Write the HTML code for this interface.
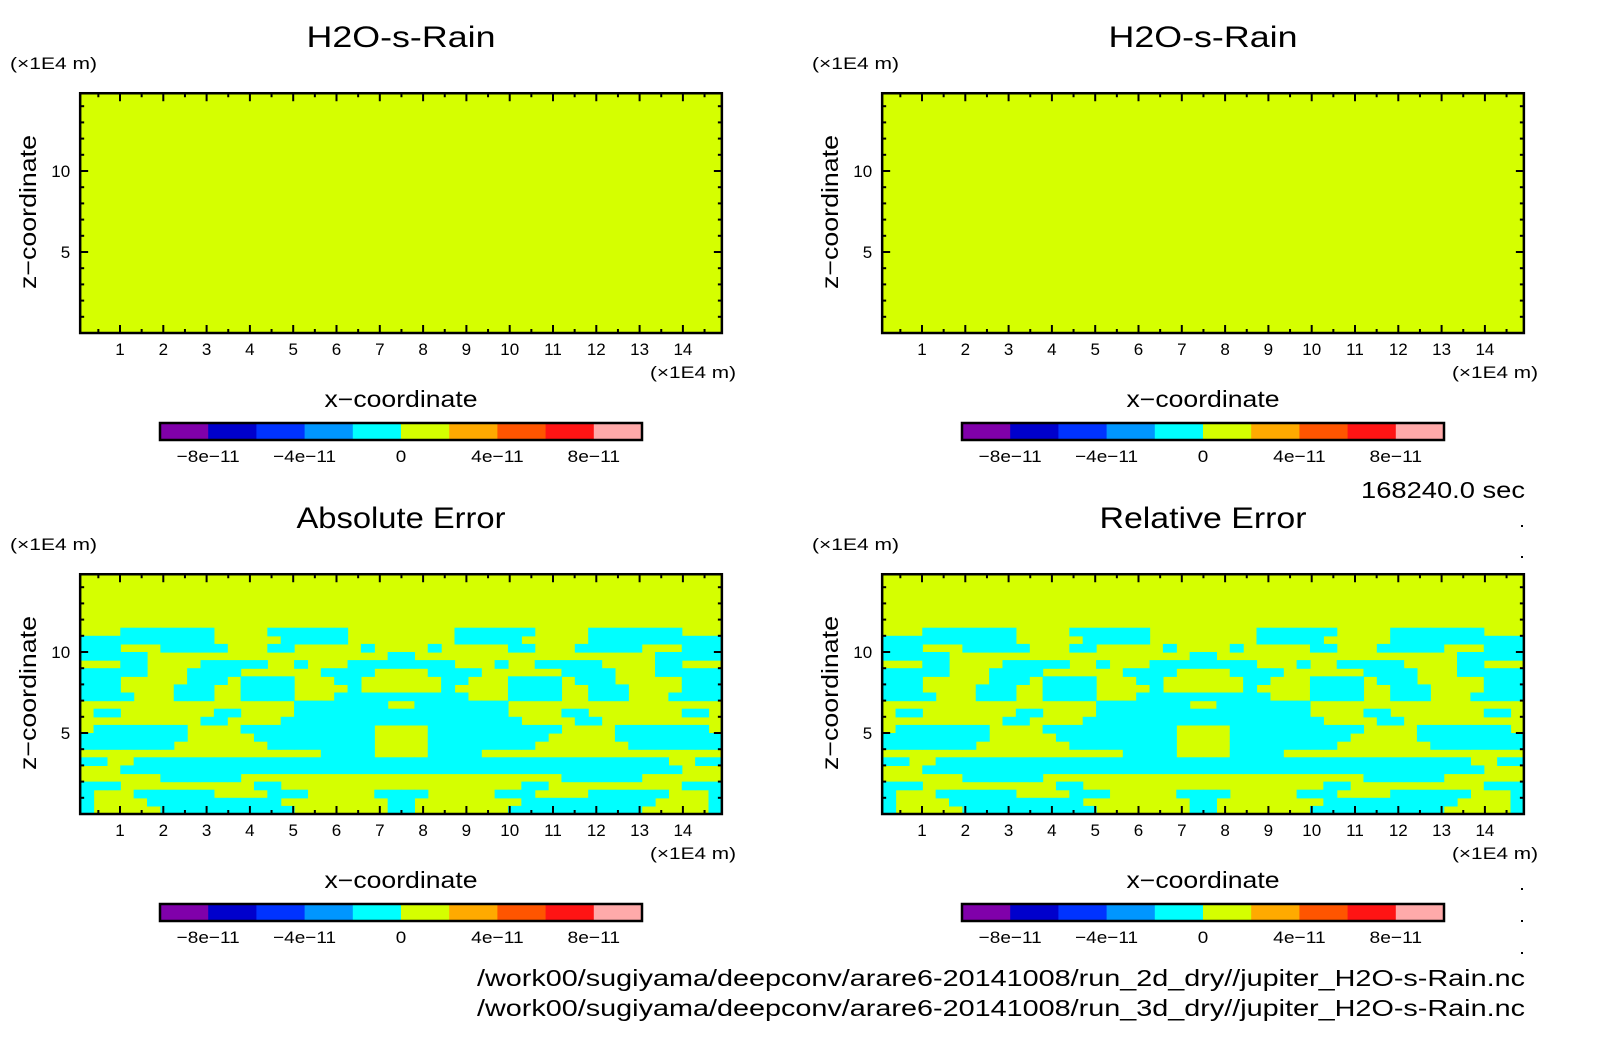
<!DOCTYPE html>
<html><head><meta charset="utf-8"><title>H2O-s-Rain</title>
<style>body{margin:0;background:#fff}svg{display:block;font-family:"Liberation Sans",sans-serif}</style>
</head><body>
<svg id="fig" width="1604" height="1054" viewBox="0 0 1604 1054" xmlns="http://www.w3.org/2000/svg">
<rect width="1604" height="1054" fill="#fff"/>
</svg>
<script>
// ---- data ----
const xTicks = [1,2,3,4,5,6,7,8,9,10,11,12,13,14];
const yTicks = [5,10];
const cbarColors = ["#8000aa","#0000cc","#0033ff","#0096ff","#00ffff","#d5ff00","#ffaa00","#ff5500","#ff1414","#ffaaaa"];
const cbarLabels = ["-8e-11","-4e-11","0","4e-11","8e-11"];
const cbarLabelIdx = [1,3,5,7,9];
const panelTitles = ["H2O-s-Rain","H2O-s-Rain","Absolute Error","Relative Error"];
// error field: rows from top (z=12) to bottom (z=0), left half of 48 columns (mirrored). C=cyan (<0), Y=yellow (>0)
const errRows = [
"YYYYYYYYYYYYYYYYYYYYYYYY",
"YYYCCCCCCCYYYYCCCCCCYYYY",
"CCCCCCCCCCYYYYYCCCCCYYYY",
"CCCYYYCCCCCYYYCCYYYYYCYY",
"CCCCCYYYYYYYYYYYYYYYYYYC",
"YYYCCYYYYCCCCCYYCYYYCCCC",
"CCCCCYYYCCCCYYYYYYCCCCYY",
"CCCYYYYYCCCYCCCCYYYCCYYY",
"CCCYYYYCCCYYCCCCYYYYCYYY",
"CCCCYYYCCCYYCCCCYYYCCCCC",
"YYYYYYYYYYYYYYYYCCCCCCCY",
"YCCYYYYYYYCCYYYYCCCCCCCC",
"YYYYYYYYYCCYYYYCCCCCCCCC",
"YCCCCCCCYYYYCCCCCCCCCCYY",
"CCCCCCCCYYYYYCCCCCCCCCYY",
"CCCCCCCYYYYYYYCCCCCCCCYY",
"YYYYYYYYYYYYYYYYYYCCCCYY",
"CCYYCCCCCCCCCCCCCCCCCCCC",
"YYYCCCCCCCCCCCCCCCCCCCCC",
"YYYYYYCCCCCCYYYYYYYYYYYY",
"CCCYYYYYYYYYYCCYYYYYYYYY",
"CYYYCCCCCCYYYYCCCYYYYYCC",
"CYYYYCCCCCCCCCCYYYYYYYYC",
"CYYYYYCCCCCCCCCCYYYYYYYC"
];
const fieldCellValue = {C:-1e-11, Y:1e-11};
const zTop = 12, zStep = 0.5, xMin = 0.08, xMax = 14.9, zMax = 14.8;
const cbarMin = -1e-10, cbarStep = 2e-11;
const titleWidths = [189, 189, 209, 207];

// ---- drawing ----
const NS = "http://www.w3.org/2000/svg";
const svg = document.getElementById("fig");
function mk(tag, attrs, parent){
  const e = document.createElementNS(NS, tag);
  for (const k in attrs) e.setAttribute(k, attrs[k]);
  (parent||svg).appendChild(e); return e;
}
function txt(s, x, y, size, anchor, parent, len){
  const t = mk("text", {x:x, y:y, "font-size":size, "text-anchor":anchor||"middle", fill:"#000"}, parent);
  if (len) { t.setAttribute("textLength", len); t.setAttribute("lengthAdjust", "spacingAndGlyphs"); }
  t.textContent = s; return t;
}
function colorFor(v){
  let i = Math.floor((v - cbarMin)/cbarStep);
  i = Math.max(0, Math.min(cbarColors.length-1, i));
  return cbarColors[i];
}

const panels = [
  {dx:0, dy:0, err:false},
  {dx:802, dy:0, err:false},
  {dx:0, dy:481, err:true},
  {dx:802, dy:481, err:true}
];

panels.forEach((p, pi) => {
  const g = mk("g", {});
  
  
  const xs = v => p.dx + 76.7 + 43.3*v;
  const ys = v => p.dy + 333 - 16.2*v;
  const L = xs(xMin), R = xs(xMax), T = ys(zMax), B = ys(0);

  const bg = mk("rect", {x:L, y:T, width:R-L, height:B-T, fill:colorFor(1e-11)}, g);
  
  

  if (p.err) {
    const ncol = errRows[0].length*2;
    const cw = (xMax - xMin)/ncol;
    errRows.forEach((row, r) => {
      const zHi = zTop - r*zStep, zLo = zHi - zStep;
      for (let c = 0; c < ncol; c++) {
        const ch = c < row.length ? row[c] : row[ncol-1-c];
        const v = fieldCellValue[ch];
        if (v >= 0) continue;
        const x0 = xs(xMin + c*cw), x1 = xs(xMin + (c+1)*cw);
        const cell = mk("rect", {x:x0, y:ys(zHi), width:x1-x0+0.6, height:ys(zLo)-ys(zHi)+0.6, fill:colorFor(v)}, g);
        
        
      }
    });
  }

  for (let v = 0.5; v < xMax; v += 0.5) {
    const major = Math.abs(v - Math.round(v)) < 1e-6;
    const len = major ? 8 : 4;
    mk("line", {x1:xs(v), x2:xs(v), y1:B, y2:B-len, stroke:"#000", "stroke-width":2}, g);
    mk("line", {x1:xs(v), x2:xs(v), y1:T, y2:T+len, stroke:"#000", "stroke-width":2}, g);
  }
  for (let v = 1; v < zMax; v += 1) {
    const len = (v % 5 === 0) ? 8 : 4;
    mk("line", {x1:L, x2:L+len, y1:ys(v), y2:ys(v), stroke:"#000", "stroke-width":2}, g);
    mk("line", {x1:R, x2:R-len, y1:ys(v), y2:ys(v), stroke:"#000", "stroke-width":2}, g);
  }
  const fr = mk("rect", {x:L, y:T, width:R-L, height:B-T, fill:"none", stroke:"#000", "stroke-width":2.5}, g);
  
  

  xTicks.forEach(v => {
    const t = txt(String(v), xs(v), B+22, 17, "middle", g);
    
    
  });
  yTicks.forEach(v => {
    const t = txt(String(v), L-10, ys(v)+6, 17, "end", g);
    
    
  });

  const title = txt(panelTitles[pi], p.dx+401, p.dy+47, 30, "middle", g, titleWidths[pi]);
  
  
  const yu = txt("(\u00d71E4 m)", p.dx+10, p.dy+69, 17, "start", g, 87);
  
  
  const xu = txt("(\u00d71E4 m)", p.dx+650, p.dy+378, 17, "start", g, 86);
  
  
  const xt = txt("x\u2212coordinate", p.dx+401, p.dy+407, 23, "middle", g, 153);
  
  
  const zt = txt("z\u2212coordinate", 0, 0, 23, "middle", g, 154);
  zt.setAttribute("transform", "translate(" + (p.dx+36) + "," + (p.dy+212) + ") rotate(-90)");
  
  

  const cbL = p.dx+160, cbW = 482, cbT = p.dy+423, cbH = 17;
  const sw = cbW / cbarColors.length;
  cbarColors.forEach((c, i) => {
    const s = mk("rect", {x:cbL+i*sw, y:cbT, width:sw+0.5, height:cbH, fill:c}, g);
    
    
  });
  const cbf = mk("rect", {x:cbL, y:cbT, width:cbW, height:cbH, fill:"none", stroke:"#000", "stroke-width":2.5}, g);
  
  
  cbarLabels.forEach((s, i) => {
    const t = txt(s.replace(/-/g, "\u2212"), cbL + cbarLabelIdx[i]*sw, cbT+39, 17, "middle", g, s.length*10.5);
    
    
  });
});

const tm = txt("168240.0 sec", 1525, 498, 23, "end", null, 164);


const p1 = txt("/work00/sugiyama/deepconv/arare6-20141008/run_2d_dry//jupiter_H2O-s-Rain.nc", 1525, 986, 23, "end", null, 1048);


const p2 = txt("/work00/sugiyama/deepconv/arare6-20141008/run_3d_dry//jupiter_H2O-s-Rain.nc", 1525, 1016, 23, "end", null, 1048);


[525, 556, 853, 888, 920, 952].forEach(y => {
  const d = mk("rect", {x:1521, y:y, width:2, height:2, fill:"#000"});
  
  
});
</script>
</body></html>
